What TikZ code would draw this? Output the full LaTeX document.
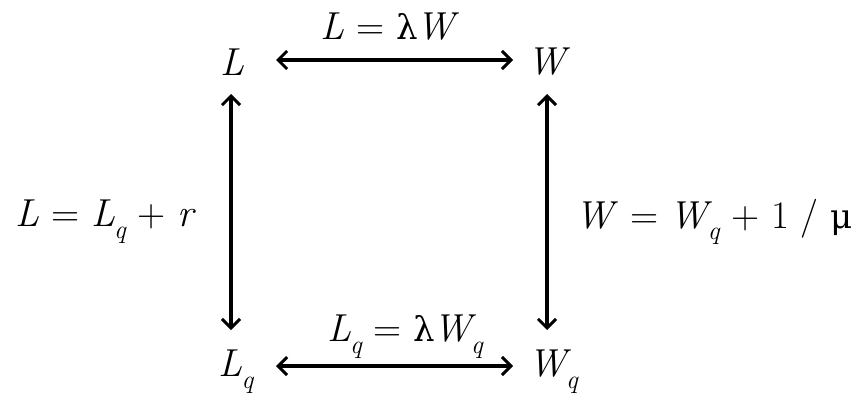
\documentclass[tikz,border=0pt]{standalone}
\usepackage{fontspec}
\newfontfamily\grk{DejaVu Serif}
\usetikzlibrary{arrows.meta}
\newcommand{\sbq}{\raisebox{-0.3em}{\fontsize{26}{26}\selectfont\itshape q}}
\newcommand{\Lq}{\textit{L}\kern-1pt\sbq}
\newcommand{\Wq}{\textit{W}\kern-5pt\sbq}
\newcommand{\lam}{{\grk\fontsize{34}{34}\selectfont λ}\kern-2pt}
\newcommand{\mmu}{{\grk\fontsize{34}{34}\selectfont μ}}
\tikzset{
  lbl/.style={inner sep=0pt, font=\rmfamily\fontsize{39}{39}\selectfont},
  dbl/.style={line width=3.2pt, {Straight Barb[length=9pt,width=18pt,line width=3pt]}-{Straight Barb[length=9pt,width=18pt,line width=3pt]}}
}
\begin{document}
\begin{tikzpicture}[x=1pt,y=-1pt]
\useasboundingbox (0,0) rectangle (867,399);
\node[lbl] (L) at (232,62) {\itshape L};
\node[lbl] (W) at (547,62) {\itshape W};
\node[lbl] (Lq) at (236,372) {\Lq};
\node[lbl] (Wq) at (553,372) {\Wq};
\draw[dbl] (276,60) -- (513,60);
\draw[dbl] (276,366) -- (513,366);
\draw[dbl] (231,94) -- (231,330);
\draw[dbl] (547,94) -- (547,330);
\node[lbl] (top) at (390,27) {\textit{L} = \lam\textit{W}};
\node[lbl] (bot) at (405,337) {\Lq{} = \lam\Wq};
\node[lbl] (left) at (106,222) {\textit{L} = \Lq{} + \textit{r}};
\node[lbl] (right) at (714,222) {\textit{W} = \Wq{} + 1 / \mmu};
\end{tikzpicture}
\end{document}
